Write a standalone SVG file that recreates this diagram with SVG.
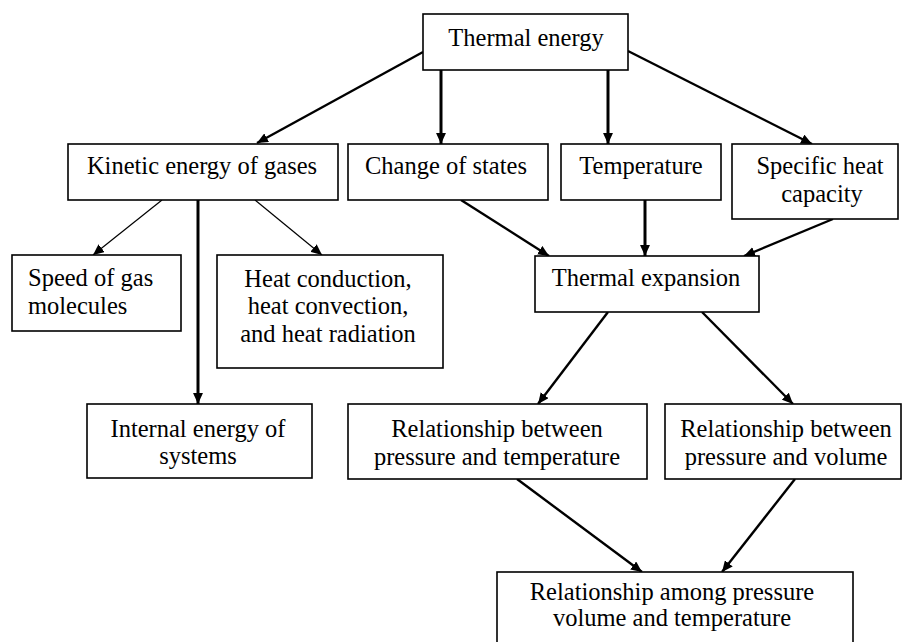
<svg xmlns="http://www.w3.org/2000/svg" width="909" height="642" viewBox="0 0 909 642">
<style>
.box{fill:#fff;stroke:#000;stroke-width:1.6}
.t{font-family:"Liberation Serif","Times New Roman",serif;font-size:24.5px;fill:#000}
.c{text-anchor:middle}
.ln{stroke:#000;fill:none}
.w1{stroke-width:1.2}
.w2{stroke-width:2.4}
.w3{stroke-width:3}
</style>
<defs>
<marker id="ah" viewBox="0 0 10 9" refX="10" refY="4.5" markerWidth="11" markerHeight="10" markerUnits="userSpaceOnUse" orient="auto">
<path d="M0,0 L10,4.5 L0,9 z" fill="#000"/>
</marker>
</defs>
<rect width="909" height="642" fill="#fff"/>
<g id="connectors">
<line class="ln w2" x1="423" y1="52" x2="257" y2="143" marker-end="url(#ah)"/>
<line class="ln w3" x1="441" y1="70" x2="441" y2="144" marker-end="url(#ah)"/>
<line class="ln w3" x1="608" y1="70" x2="608" y2="144" marker-end="url(#ah)"/>
<line class="ln w2" x1="628" y1="51" x2="812" y2="144" marker-end="url(#ah)"/>
<line class="ln w1" x1="162" y1="200" x2="93" y2="255" marker-end="url(#ah)"/>
<line class="ln w3" x1="198" y1="200" x2="198" y2="404" marker-end="url(#ah)"/>
<line class="ln w1" x1="255" y1="200" x2="322" y2="255" marker-end="url(#ah)"/>
<line class="ln w2" x1="461" y1="200" x2="549" y2="256" marker-end="url(#ah)"/>
<line class="ln w3" x1="645" y1="200" x2="645" y2="256" marker-end="url(#ah)"/>
<line class="ln w2" x1="833" y1="219" x2="744" y2="256" marker-end="url(#ah)"/>
<line class="ln w2" x1="608" y1="312" x2="538" y2="404" marker-end="url(#ah)"/>
<line class="ln w2" x1="702" y1="312" x2="793" y2="404" marker-end="url(#ah)"/>
<line class="ln w2" x1="517" y1="479" x2="642" y2="572" marker-end="url(#ah)"/>
<line class="ln w2" x1="795" y1="479" x2="722" y2="572" marker-end="url(#ah)"/>
</g>
<g id="thermal-energy">
<rect class="box" x="423" y="14" width="205" height="56"/>
<text class="t c" x="526" y="46">Thermal energy</text>
</g>
<g id="kinetic">
<rect class="box" x="68" y="144" width="270" height="56"/>
<text class="t c" x="202" y="174">Kinetic energy of gases</text>
</g>
<g id="change-of-states">
<rect class="box" x="348" y="144" width="200" height="56"/>
<text class="t c" x="446" y="174">Change of states</text>
</g>
<g id="temperature">
<rect class="box" x="561" y="144" width="160" height="56"/>
<text class="t c" x="641" y="174">Temperature</text>
</g>
<g id="specific-heat">
<rect class="box" x="732" y="144" width="166" height="75"/>
<text class="t c" x="820" y="174">Specific heat</text>
<text class="t c" x="822" y="202">capacity</text>
</g>
<g id="thermal-expansion">
<rect class="box" x="535" y="256" width="224" height="56"/>
<text class="t c" x="646" y="286">Thermal expansion</text>
</g>
<g id="speed">
<rect class="box" x="12" y="255" width="169" height="76"/>
<text class="t" x="28" y="286">Speed of gas</text>
<text class="t" x="28" y="314">molecules</text>
</g>
<g id="heat-transfer">
<rect class="box" x="217" y="255" width="226" height="113"/>
<text class="t c" x="328" y="287">Heat conduction,</text>
<text class="t c" x="328" y="314">heat convection,</text>
<text class="t c" x="328" y="342">and heat radiation</text>
</g>
<g id="internal-energy">
<rect class="box" x="87" y="404" width="225" height="74"/>
<text class="t c" x="198" y="437">Internal energy of</text>
<text class="t c" x="198" y="464">systems</text>
</g>
<g id="pressure-temperature">
<rect class="box" x="348" y="404" width="299" height="75"/>
<text class="t c" x="497" y="437">Relationship between</text>
<text class="t c" x="497" y="465">pressure and temperature</text>
</g>
<g id="pressure-volume">
<rect class="box" x="665" y="404" width="236" height="75"/>
<text class="t c" x="786" y="437">Relationship between</text>
<text class="t c" x="786" y="465">pressure and volume</text>
</g>
<g id="pressure-volume-temperature">
<rect class="box" x="497" y="572" width="356" height="80"/>
<text class="t c" x="672" y="600">Relationship among pressure</text>
<text class="t c" x="672" y="626">volume and temperature</text>
</g>
</svg>
